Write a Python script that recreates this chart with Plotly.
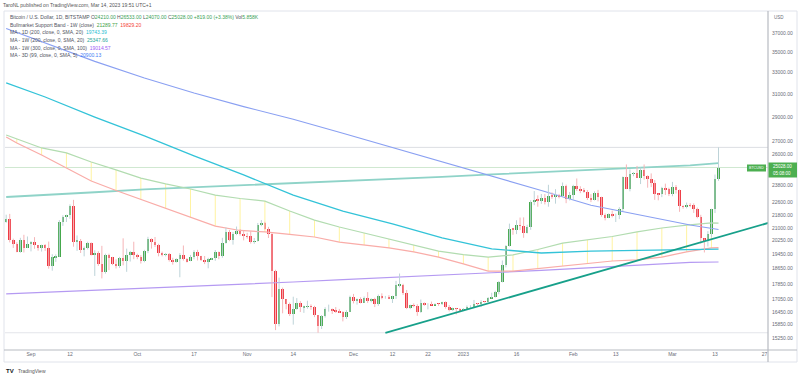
import plotly.graph_objects as go
import pandas as pd

# ---------------- data ----------------
dates = pd.date_range("2022-08-25", "2023-03-14", freq="D")

opens = (
    [21370, 21560, 20250, 20030, 19560, 20290, 19810]
    + [20050, 20130, 19950, 19830, 19990, 19800, 18790, 19290, 19320, 21360, 21650, 21830, 22400, 20170, 20230,
       19700, 19800, 20110, 19420, 19540, 18880, 18480, 19400, 19290, 18920, 18800, 19220, 19080, 19410, 19590]
    + [19420, 19310, 19060, 19630, 20340, 20160, 19960, 19530, 19420, 19440, 19130, 19060, 19160, 19380, 19180,
       19070, 19270, 19550, 19330, 19120, 19040, 19170, 19210, 19570, 19330, 20090, 20770, 20290, 20600, 20810, 20630]
    + [20490, 20480, 20160, 20210, 21150, 21300, 20910, 20600, 18540, 15880, 17590, 17070, 16810, 16330, 16610,
       16900, 16660, 16690, 16700, 16690, 16280, 15770, 16230, 16600, 16600, 16520, 16460, 16440, 16210, 16440]
    + [17160, 16980, 17090, 16890, 17110, 16970, 17090, 16840, 17220, 17130, 17130, 17090, 17210, 17780, 17810,
       17360, 16630, 16780, 16740, 16440, 16900, 16820, 16820, 16780, 16840, 16830, 16920, 16700, 16540, 16630, 16600]
    + [16530, 16610, 16670, 16670, 16850, 16830, 16950, 16940, 17120, 17180, 17440, 17940, 18850, 19930, 20950,
       20880, 21170, 21140, 20670, 21080, 22660, 22780, 22710, 22920, 22630, 23060, 23010, 23080, 23030, 23740, 22830]
    + [23130, 23730, 23490, 23430, 23330, 22930, 22760, 23250, 22960, 21800, 21630, 21860, 21780, 21780, 22200,
       24330, 23520, 24570, 24630, 24280, 24840, 24440, 24190, 23950, 23190, 23160, 23560, 23490]
    + [23140, 23650, 23470, 22360, 22350, 22430, 22410, 22200, 21700, 20360, 20190, 20630, 22160, 24210]
)
highs = (
    [21820, 21870, 20350, 20140, 20400, 20580, 20480]
    + [20200, 20440, 19970, 20000, 20030, 20180, 19450, 19440, 21480, 21780, 21820, 22480, 22780, 20540, 20330,
       19890, 20170, 20130, 19680, 19620, 19930, 19480, 19480, 19300, 19160, 19300, 20370, 19770, 19640, 20170]
    + [19480, 19400, 19700, 20460, 20370, 20450, 20050, 19600, 19520, 19520, 19250, 19220, 19510, 19950, 19230,
       19410, 19680, 19700, 19360, 19350, 19250, 19250, 19690, 19600, 20400, 21020, 20870, 20750, 21080, 20930, 20840]
    + [20700, 20800, 20390, 21300, 21480, 21370, 21060, 20670, 18590, 18170, 17650, 17070, 16900, 17190, 17120,
       16970, 16750, 16990, 16810, 16740, 16300, 16300, 16670, 16800, 16610, 16680, 16590, 16480, 16530, 17240]
    + [17330, 17100, 17160, 17200, 17420, 17110, 17140, 17300, 17360, 17230, 17270, 17240, 18000, 18390, 17850,
       17530, 16800, 16860, 16820, 17050, 16910, 16870, 16950, 16860, 16860, 16940, 16960, 16780, 16650, 16640, 16630]
    + [16630, 16760, 16770, 17030, 16880, 17020, 16970, 17170, 17390, 17490, 17990, 19100, 19970, 21260, 21000,
       21470, 21640, 21650, 21190, 22760, 23370, 23080, 23170, 23170, 23800, 23280, 23500, 23180, 23960, 23810, 23310]
    + [23800, 24240, 23700, 23580, 23440, 23160, 23350, 23450, 22990, 21900, 21900, 22080, 21890, 22300, 24380,
       25250, 24890, 24700, 25140, 25020, 25250, 24470, 24600, 24130, 23210, 23660, 23880, 23600]
    + [24000, 23780, 23480, 22420, 22600, 22560, 22550, 22270, 21810, 20370, 20800, 22200, 24520, 26533]
)
lows = (
    [21310, 20130, 19810, 19560, 19530, 19550, 19800]
    + [19610, 19760, 19650, 19600, 19640, 18650, 18540, 19020, 19300, 21120, 21360, 21560, 19880, 19640, 19520,
       19330, 19720, 19380, 18260, 18800, 18130, 18380, 18570, 18840, 18660, 18690, 18830, 18480, 19040, 19170]
    + [19170, 18930, 19000, 19510, 19770, 19860, 19330, 19330, 19330, 19040, 18870, 18980, 18190, 19090, 18990,
       19060, 19160, 19100, 19070, 18900, 18670, 19130, 19080, 19170, 19250, 20060, 20200, 20000, 20560, 20530, 20250]
    + [20350, 20060, 20050, 20180, 21100, 20890, 20390, 17170, 15600, 15770, 16380, 16570, 16250, 15850, 16550,
       16440, 16400, 16600, 16550, 16200, 15480, 15650, 16180, 16460, 16350, 16400, 16400, 16000, 16110, 16440]
    + [16860, 16800, 16860, 16880, 16880, 16910, 16680, 16740, 17060, 17090, 17070, 16880, 17080, 17660, 17280,
       16580, 16580, 16670, 16260, 16400, 16740, 16570, 16770, 16770, 16740, 16780, 16600, 16470, 16490, 16330, 16480]
    + [16490, 16540, 16600, 16660, 16750, 16680, 16900, 16910, 17100, 17150, 17310, 17920, 18720, 19890, 20580,
       20620, 20860, 20400, 20660, 20880, 22430, 22330, 22520, 22480, 22330, 22850, 22530, 22880, 23000, 22560, 22740]
    + [22780, 23370, 23230, 23260, 22770, 22630, 22740, 22680, 21690, 21460, 21600, 21650, 21360, 21540, 22050,
       23500, 23350, 24400, 24280, 23850, 24160, 23600, 23640, 22780, 22750, 22960, 23110, 23030]
    + [23020, 23200, 22000, 22200, 22220, 22300, 21930, 21590, 20060, 19550, 19890, 20420, 21920, 24070]
)
closes = (
    [21560, 20250, 20030, 19560, 20290, 19810, 20050]
    + [20130, 19950, 19830, 19990, 19800, 18790, 19290, 19320, 21360, 21650, 21830, 22400, 20170, 20230, 19700,
       19800, 20110, 19420, 19540, 18880, 18480, 19400, 19290, 18920, 18800, 19220, 19080, 19410, 19590, 19420]
    + [19310, 19060, 19630, 20340, 20160, 19960, 19530, 19420, 19440, 19130, 19060, 19160, 19380, 19180, 19070,
       19270, 19550, 19330, 19120, 19040, 19170, 19210, 19570, 19330, 20090, 20770, 20290, 20600, 20810, 20630, 20490]
    + [20480, 20160, 20210, 21150, 21300, 20910, 20600, 18540, 15880, 17590, 17070, 16810, 16330, 16610, 16900,
       16660, 16690, 16700, 16690, 16280, 15770, 16230, 16600, 16600, 16520, 16460, 16440, 16210, 16440, 17160]
    + [16980, 17090, 16890, 17110, 16970, 17090, 16840, 17220, 17130, 17130, 17090, 17210, 17780, 17810, 17360,
       16630, 16780, 16740, 16440, 16900, 16820, 16820, 16780, 16840, 16830, 16920, 16700, 16540, 16630, 16600, 16530]
    + [16610, 16670, 16670, 16850, 16830, 16950, 16940, 17120, 17180, 17440, 17940, 18850, 19930, 20950, 20880,
       21170, 21140, 20670, 21080, 22660, 22780, 22710, 22920, 22630, 23060, 23010, 23080, 23030, 23740, 22830, 23130]
    + [23730, 23490, 23430, 23330, 22930, 22760, 23250, 22960, 21800, 21630, 21860, 21780, 21780, 22200, 24330,
       23520, 24570, 24630, 24280, 24840, 24440, 24190, 23950, 23190, 23160, 23560, 23490, 23140]
    + [23650, 23470, 22360, 22350, 22430, 22410, 22200, 21700, 20360, 20190, 20630, 22160, 24209, 25028]
)
assert len(opens) == len(highs) == len(lows) == len(closes) == len(dates)

# Bull market support band (weekly), nodes on the weekly closes
band_dates = ["2022-08-25", "2022-08-28", "2022-09-04", "2022-09-11", "2022-09-18", "2022-09-25", "2022-10-02",
              "2022-10-09", "2022-10-16", "2022-10-23", "2022-10-30", "2022-11-06", "2022-11-13", "2022-11-20",
              "2022-11-27", "2022-12-04", "2022-12-11", "2022-12-18", "2022-12-25", "2023-01-01", "2023-01-08",
              "2023-01-15", "2023-01-22", "2023-01-29", "2023-02-05", "2023-02-12", "2023-02-19", "2023-02-26",
              "2023-03-05", "2023-03-12", "2023-03-14"]
band_upper = [27510, 27190, 26490, 26110, 25430, 24850, 24270, 23860, 23510, 23100, 22870, 22700, 22050, 21480,
              21050, 20690, 20330, 19980, 19630, 19430, 19290, 19410, 19720, 20090, 20270, 20480, 20750, 20990,
              21170, 21300, 21290]
band_lower = [27350, 26880, 25950, 24990, 24060, 23410, 22800, 22210, 21640, 21110, 20840, 20750, 20600, 20450,
              20150, 19980, 19810, 19580, 19290, 18910, 18520, 18520, 18660, 18800, 18960, 19070, 19130, 19290,
              19580, 19810, 19830]

# Moving averages
ma_dates = ["2022-08-25", "2022-09-05", "2022-09-19", "2022-10-03", "2022-10-17", "2022-10-31", "2022-11-14",
            "2022-11-28", "2022-12-12", "2022-12-26", "2023-01-09", "2023-01-23", "2023-02-06", "2023-02-20",
            "2023-03-06", "2023-03-14"]
ma_1d_200 = [32000, 30720, 28980, 27430, 25880, 24490, 23100, 22050, 21240, 20390, 19750, 19520, 19630, 19690,
             19720, 19743]
ma_3d_99 = [37490, 35950, 34070, 32460, 31080, 29870, 28790, 27650, 26530, 25460, 24420, 23410, 22420, 21780,
            21170, 20900]
ma_1w_200 = [22970, 23090, 23290, 23490, 23630, 23760, 23900, 24050, 24200, 24350, 24530, 24700, 24850, 25010,
             25180, 25348]
ma_1w_300 = [17330, 17410, 17520, 17620, 17720, 17820, 17940, 18070, 18180, 18320, 18430, 18560, 18710, 18840,
             18990, 19015]

# Drawn trend line and horizontal levels
trend_dates = ["2022-12-10", "2023-03-28"]
trend_prices = [15470, 21300]
level_high = 26533
level_last = 25028
level_low = 15480

y_ticks = [37000, 35000, 33000, 31000, 29000, 27000, 26000, 23800, 22600, 21800, 21000, 20250, 19450, 18650,
           17850, 17050, 16450, 15850, 15250]
x_tick_dates = ["2022-09-01", "2022-09-12", "2022-10-01", "2022-10-17", "2022-11-01", "2022-11-14", "2022-12-01",
                "2022-12-12", "2022-12-22", "2023-01-01", "2023-01-16", "2023-02-01", "2023-02-13", "2023-03-01",
                "2023-03-13", "2023-03-27"]
x_tick_labels = ["Sep", "12", "Oct", "17", "Nov", "14", "Dec", "12", "22", "2023", "16", "Feb", "13", "Mar",
                 "13", "27"]

# ---------------- styling ----------------
GREEN = "#45a84c"
RED = "#ee3a44"
GREEN_WICK = "#bdd3d8"
RED_WICK = "#f5b4b7"
W, H = 800, 378
L, R, T, B = 5, 768, 11, 350


def px(x):
    return (x - L) / (R - L)


def py(y):
    return (B - y) / (B - T)


fig = go.Figure()

# band vertical fill lines (yellow)
vx, vy = [], []
for d, u, lo in zip(band_dates[1:-1], band_upper[1:-1], band_lower[1:-1]):
    vx += [d, d, None]
    vy += [lo, u, None]
fig.add_trace(go.Scatter(x=vx, y=vy, mode="lines", line=dict(color="#fff3a0", width=1), hoverinfo="skip"))

# horizontal levels
for lvl, col in [(level_high, "#dcdee3"), (level_last, "#cfe8d0"), (level_low, "#e3e5ea")]:
    fig.add_trace(go.Scatter(x=["2022-08-20", "2023-04-05"], y=[lvl, lvl], mode="lines",
                             line=dict(color=col, width=1), hoverinfo="skip"))

# MAs
fig.add_trace(go.Scatter(x=ma_dates, y=ma_1w_300, mode="lines", line=dict(color="#b59af2", width=1.2)))
fig.add_trace(go.Scatter(x=ma_dates, y=ma_1w_200, mode="lines", line=dict(color="#8fd3c8", width=1.8)))
fig.add_trace(go.Scatter(x=band_dates, y=band_upper, mode="lines", line=dict(color="#b2dcb0", width=1.2)))
fig.add_trace(go.Scatter(x=band_dates, y=band_lower, mode="lines", line=dict(color="#f9aca8", width=1.2)))
fig.add_trace(go.Scatter(x=ma_dates, y=ma_1d_200, mode="lines", line=dict(color="#33c3d8", width=1.3)))
fig.add_trace(go.Scatter(x=ma_dates, y=ma_3d_99, mode="lines", line=dict(color="#8aa0f2", width=1.1)))

# wicks
gx, gy, rx, ry = [], [], [], []
for d, o, h, lo, c in zip(dates, opens, highs, lows, closes):
    if c >= o:
        gx += [d, d, None]; gy += [lo, h, None]
    else:
        rx += [d, d, None]; ry += [lo, h, None]
fig.add_trace(go.Scatter(x=gx, y=gy, mode="lines", line=dict(color=GREEN_WICK, width=1)))
fig.add_trace(go.Scatter(x=rx, y=ry, mode="lines", line=dict(color=RED_WICK, width=1)))

# bodies
base = [min(o, c) for o, c in zip(opens, closes)]
size = [abs(c - o) for o, c in zip(opens, closes)]
cols = [GREEN if c >= o else RED for o, c in zip(opens, closes)]
fig.add_trace(go.Bar(x=dates, y=size, base=base, marker=dict(color=cols, line=dict(width=0)),
                     width=0.74 * 86400000))

# trend line
fig.add_trace(go.Scatter(x=trend_dates, y=trend_prices, mode="lines", line=dict(color="#17a08a", width=1.8)))

# ---------------- annotations ----------------
ann = []
TXT = "#50535e"
FONT = "Liberation Sans, Arial, sans-serif"


def label(x, y, text, size=5, color=TXT, anchor="left"):
    ann.append(dict(x=px(x), y=py(y), xref="paper", yref="paper", text=text, showarrow=False,
                    xanchor=anchor, yanchor="middle", font=dict(size=size, color=color, family=FONT)))


def span(t, c):
    return f"<span style='color:{c}'>{t}</span>"


G = "#3a9f55"
label(1, 5.5, "TaroNL published on TradingView.com, Mar 14, 2023 19:51 UTC+1", 5, "#555")
label(8, 17.5, "Bitcoin / U.S. Dollar, 1D, BITSTAMP O" + span("24210.00", G) + " H" + span("26533.00", G)
      + " L" + span("24070.00", G) + " C" + span("25028.00", G) + " " + span("+819.00 (+3.38%)", G)
      + " Vol" + span("5.858K", G))
label(8, 25, "Bullmarket Support Band - 1W (close)  " + span("21289.77", "#43a047") + "  "
      + span("19829.20", "#f44336"))
label(8, 32.5, "MA - 1D (200, close, 0, SMA, 20)  " + span("19743.39", "#1fbcd2"))
label(8, 40, "MA - 1W (200, close, 0, SMA, 20)  " + span("25347.66", "#26a69a"))
label(8, 47.5, "MA - 1W (300, close, 0, SMA, 100)  " + span("19014.57", "#9c5cf5"))
label(8, 55, "MA - 3D (99, close, 0, SMA, 5)  " + span("20900.13", "#3f7cf5"))

label(772, 17, "USD", 4.5, "#6a6d78")
label(4, 371, "<b>TV</b>", 6, "#131722")
label(16, 371, "TradingView", 5, "#555")

# price boxes
shapes = []


def rect(x0, y0, x1, y1, fill=None, line=None, lw=1):
    shapes.append(dict(type="rect", xref="paper", yref="paper", x0=px(x0), x1=px(x1), y0=py(y1), y1=py(y0),
                       fillcolor=fill or "rgba(0,0,0,0)", line=dict(color=line or "rgba(0,0,0,0)", width=lw),
                       layer="above"))


def seg(x0, y0, x1, y1, color, lw=1):
    shapes.append(dict(type="line", xref="paper", yref="paper", x0=px(x0), x1=px(x1), y0=py(y0), y1=py(y1),
                       line=dict(color=color, width=lw), layer="above"))


rect(4, 11, 797, 362, line="#e0e3eb")
seg(4, 350, 797, 350, "#b8bbc2", 1.2)
seg(768, 11, 768, 362, "#b8bbc2", 1.2)
rect(747, 164.5, 766, 171.5, fill="#4caf50")
rect(768.5, 162.5, 797, 177.5, fill="#4caf50")
label(756.5, 168, "BTCUSD", 3.6, "white", "center")
label(782.5, 166.5, "25028.00", 4.5, "white", "center")
label(782.5, 173, "05:08:00", 4.5, "white", "center")

fig.update_layout(
    width=W, height=H, autosize=False,
    margin=dict(l=L, r=W - R, t=T, b=H - B, pad=0, autoexpand=False),
    paper_bgcolor="white", plot_bgcolor="white",
    showlegend=False, hovermode=False, bargap=0,
    annotations=ann, shapes=shapes,
    font=dict(family=FONT, size=5, color="#6a6d78"),
    xaxis=dict(type="date", range=["2022-08-24 16:00", "2023-03-27 23:00"], showgrid=False, zeroline=False,
               showline=False, ticks="", tickvals=x_tick_dates, ticktext=x_tick_labels, automargin=False,
               tickfont=dict(size=5, color="#6a6d78", family=FONT), fixedrange=True),
    yaxis=dict(type="log", side="right", range=[4.16800, 4.59598], showgrid=False, zeroline=False,
               showline=False, ticks="", tickvals=y_ticks, ticktext=[f"{v:.2f}" for v in y_ticks],
               automargin=False,
               tickfont=dict(size=5, color="#6a6d78", family=FONT), ticklabelstandoff=3, fixedrange=True),
)

fig.write_html("out.html", config={"displayModeBar": False},
               post_script="document.body.style.margin='0';document.body.style.overflow='hidden';")
